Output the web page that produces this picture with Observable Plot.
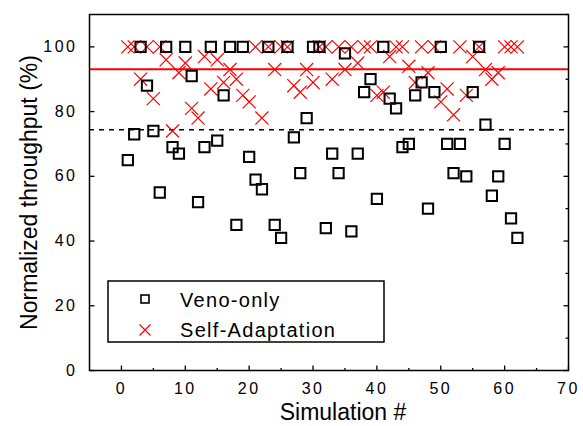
<!DOCTYPE html>
<html>
<head>
<meta charset="utf-8">
<script src="https://cdn.jsdelivr.net/npm/d3@7"></script>
<script src="https://cdn.jsdelivr.net/npm/@observablehq/plot@0.6"></script>
<style>
  html, body { margin: 0; padding: 0; background: #fff; }
  #chart { position: relative; width: 583px; height: 426px; }
  g[aria-label="x-axis tick label"] text, g[aria-label="y-axis tick label"] text { letter-spacing: 2.5px; }
  g[aria-label="axis-title"] text { letter-spacing: 1.8px; }
</style>
</head>
<body>
<div id="chart"></div>
<script>
// Simulation numbers (x)
const sims = [1,2,3,4,5,6,7,8,9,10,11,12,13,14,15,16,17,18,19,20,21,22,23,24,25,26,27,28,29,30,31,
  32,33,34,35,36,37,38,39,40,41,42,43,44,45,46,47,48,49,50,51,52,53,54,55,56,57,58,59,60,61,62];
// Normalized throughput (%) — Veno-only (black squares)
const venoOnly = [65,73,100,88,74,55,100,69,67,100,91,52,69,100,71,85,100,45,100,66,59,56,100,45,41,100,72,61,78,100,100,
  44,67,61,98,43,67,86,90,53,100,84,81,69,70,85,89,50,86,100,70,61,70,60,86,100,76,54,60,70,47,41];
// Normalized throughput (%) — Self-Adaptation (red crosses)
const selfAdapt = [100,100,90,100,84,100,96,74,92,95,81,78,97,87,96,89,93,90,85,83,100,78,100,93,100,100,88,86,93,89,100,
  100,90,100,93,100,95,100,100,85,86,97,100,100,94,89,100,92,100,83,87,79,100,85,97,100,93,90,92,100,100,100];
// Average lines
const venoMean = [74.4];
const adaptMean = [93.1];
// Tick values
const xTicks = [0,10,20,30,40,50,60,70];
const xMinor = [5,15,25,35,45,55,65];
const yTicks = [0,20,40,60,80,100];
const yMinor = [10,30,50,70,90,110];
const seriesNames = ["Veno-only", "Self-Adaptation"];

const veno = sims.map((s, i) => ({sim: s, v: venoOnly[i]}));
const adapt = sims.map((s, i) => ({sim: s, v: selfAdapt[i]}));

const tickSym = (dx, dy) => ({draw(ctx) { ctx.moveTo(0, 0); ctx.lineTo(dx, dy); }});
const font = "'Liberation Sans', Arial, sans-serif";

const chart = Plot.plot({
  width: 583,
  height: 426,
  marginLeft: 89,
  marginRight: 15,
  marginTop: 14,
  marginBottom: 56,
  style: {fontFamily: font, fontSize: "16px", color: "black", background: "white"},
  x: {domain: [-5, 70], ticks: xTicks},
  y: {domain: [0, 110], ticks: yTicks},
  marks: [
    Plot.axisX({ticks: xTicks, tickSize: 0, tickPadding: 12, label: null, fill: "black"}),
    Plot.axisY({ticks: yTicks, tickSize: 0, tickPadding: 12, label: null, fill: "black"}),
    // inward ticks
    Plot.dot(xTicks, {x: d => d, y: 0, symbol: tickSym(0, -5), stroke: "black", strokeWidth: 1.3, fill: "none"}),
    Plot.dot(xMinor, {x: d => d, y: 0, symbol: tickSym(0, -2.5), stroke: "black", strokeWidth: 1.3, fill: "none"}),
    Plot.dot(yTicks, {x: -5, y: d => d, symbol: tickSym(5, 0), stroke: "black", strokeWidth: 1.3, fill: "none"}),
    Plot.dot(yTicks, {x: 70, y: d => d, symbol: tickSym(-5, 0), stroke: "black", strokeWidth: 1.3, fill: "none"}),
    Plot.dot(yMinor, {x: 70, y: d => d, symbol: tickSym(-3, 0), stroke: "black", strokeWidth: 1.3, fill: "none"}),
    // average lines
    Plot.ruleY(venoMean, {stroke: "black", strokeWidth: 1.5, strokeDasharray: "5,5"}),
    Plot.ruleY(adaptMean, {stroke: "#ff0000", strokeWidth: 2}),
    // data
    Plot.dot(adapt, {x: "sim", y: "v", symbol: "times", r: 6, stroke: "#ff0000", strokeWidth: 1.2}),
    Plot.dot(veno, {x: "sim", y: "v", symbol: "square", r: 5.8, stroke: "black", strokeWidth: 2, fill: "none"}),
    Plot.frame({stroke: "black", strokeWidth: 1.5}),
    // axis titles
    Plot.text(["Normalized throughput (%)"], {frameAnchor: "left", dx: -60, rotate: -90, textAnchor: "middle", lineAnchor: "middle", fontSize: 23, fill: "black", ariaLabel: "axis-title"}),
    Plot.text(["Simulation #"], {frameAnchor: "bottom", dx: 14, dy: 42, textAnchor: "middle", lineAnchor: "middle", fontSize: 23, fill: "black", ariaLabel: "axis-title"})
  ]
});

document.getElementById("chart").appendChild(chart);

// Legend inside the plot area (lower-left)
const svg = d3.select(chart);
const lg = svg.append("g").attr("transform", "translate(108,281)");
lg.append("rect").attr("width", 276).attr("height", 61).attr("fill", "white").attr("stroke", "black").attr("stroke-width", 1.5);
lg.append("rect").attr("x", 33).attr("y", 14).attr("width", 8).attr("height", 8)
  .attr("fill", "none").attr("stroke", "black").attr("stroke-width", 1.6);
lg.append("path").attr("d", "M31.5,43.5L42.5,54.5M42.5,43.5L31.5,54.5").attr("stroke", "#ff0000").attr("stroke-width", 1.2);
lg.selectAll("text.leg").data(seriesNames).join("text")
  .attr("class", "leg")
  .attr("x", 72)
  .attr("y", (d, i) => i === 0 ? 25.7 : 56)
  .attr("text-anchor", "start")
  .attr("font-family", font)
  .attr("font-size", 20)
  .attr("letter-spacing", "1.3px")
  .attr("fill", "black")
  .text(d => d);
</script>
</body>
</html>
